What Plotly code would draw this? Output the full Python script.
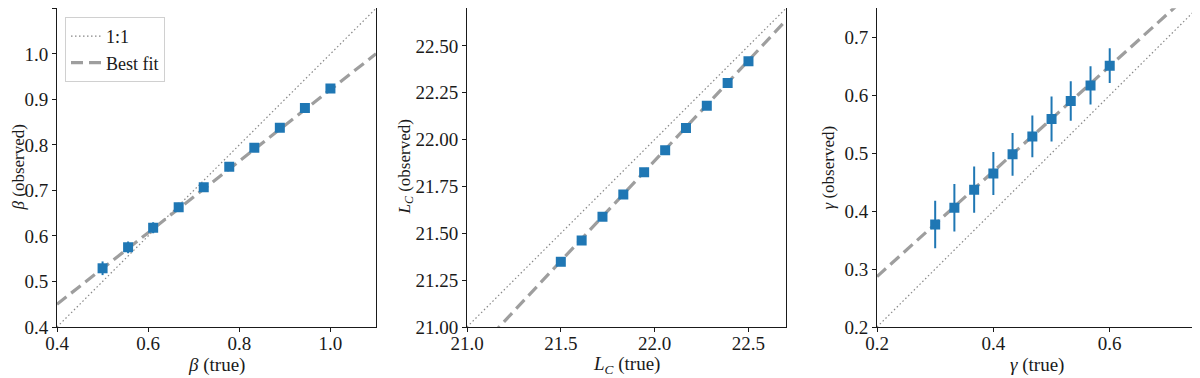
import numpy as np
import plotly.graph_objects as go
from plotly.subplots import make_subplots

# panel 1: beta
beta_true = [0.5, 0.556, 0.611, 0.667, 0.722, 0.778, 0.833, 0.889, 0.944, 1.0]
beta_obs = [0.529, 0.575, 0.618, 0.663, 0.707, 0.752, 0.794, 0.838, 0.881, 0.924]
beta_err = [0.015, 0.013, 0.012, 0.010, 0.009, 0.008, 0.008, 0.007, 0.007, 0.007]
beta_fit = (0.786, 0.45, 0.4)   # slope, value at x0, x0
beta_range = [0.4, 1.1]

# panel 2: L_C
lc_true = [21.5, 21.611, 21.722, 21.833, 21.944, 22.056, 22.167, 22.278, 22.389, 22.5]
lc_obs = [21.348, 21.462, 21.588, 21.707, 21.825, 21.943, 22.062, 22.180, 22.302, 22.418]
lc_err = [0.01] * 10
lc_fit = (1.07, 21.0, 21.171)
lc_xrange = [21.0, 22.7]
lc_yrange = [21.0, 22.7]

# panel 3: gamma
gam_true = [0.3, 0.333, 0.367, 0.4, 0.433, 0.467, 0.5, 0.533, 0.567, 0.6]
gam_obs = [0.377, 0.406, 0.437, 0.465, 0.498, 0.529, 0.559, 0.590, 0.617, 0.651]
gam_err = [0.041, 0.041, 0.040, 0.037, 0.037, 0.036, 0.039, 0.034, 0.033, 0.030]
gam_fit = (0.908, 0.287, 0.2)
gam_range = [0.2, 0.75]

xtitles = ["<i>β</i> (true)", "<i>L<sub>C</sub></i> (true)", "<i>γ</i> (true)"]
ytitles = ["<i>β</i> (observed)", "<i>L<sub>C</sub></i> (observed)", "<i>γ</i> (observed)"]

BLUE = "#1f77b4"
FONT = "Liberation Serif"
INK = "#1a1a1a"

# the page body has an 8px margin, so the figure starts at (8, 8)
OFF = 8
W, H = 1200 - OFF, 378 - OFF


def px(p):
    return (p - OFF) / W


def py(p):
    return 1 - (p - OFF) / H


fig = make_subplots(rows=1, cols=3, horizontal_spacing=0.05)

panels = [
    (beta_true, beta_obs, beta_err, beta_fit, beta_range, beta_range),
    (lc_true, lc_obs, lc_err, lc_fit, lc_xrange, lc_yrange),
    (gam_true, gam_obs, gam_err, gam_fit, gam_range, gam_range),
]

for i, (xt, yo, ye, fit, xr, yr) in enumerate(panels):
    col = i + 1
    xs = np.array(xr)
    fig.add_trace(go.Scatter(x=xs, y=xs, mode="lines", name="1:1",
                             line=dict(color="#888888", width=1.2, dash="1.5px,2.5px"),
                             showlegend=(i == 0)), row=1, col=col)
    slope, y0, x0 = fit
    fig.add_trace(go.Scatter(x=xs, y=y0 + slope * (xs - x0), mode="lines", name="Best fit",
                             line=dict(color="#9e9e9e", width=3.2, dash="12px,6px"),
                             showlegend=(i == 0)), row=1, col=col)
    fig.add_trace(go.Scatter(x=xt, y=yo, mode="markers", showlegend=False,
                             marker=dict(symbol="square", size=10, color=BLUE),
                             error_y=dict(type="data", array=ye, color=BLUE,
                                          thickness=2, width=0)), row=1, col=col)

# panel pixel boxes in page coords
doms = [(57, 376), (467, 786), (877, 1197)]
ytop, ybot = 8, 327
ydom = [py(ybot), 0.999]
ytitle_x = [18, 406, 828]

axis_common = dict(showgrid=False, zeroline=False, showline=True, mirror=True,
                   linecolor=INK, linewidth=1, ticks="outside", ticklen=4,
                   tickcolor=INK, tickfont=dict(family=FONT, size=19, color=INK),
                   automargin=False)

xcfg = [
    dict(range=beta_range, tickvals=[0.4, 0.6, 0.8, 1.0], tickformat=".1f"),
    dict(range=lc_xrange, tickvals=[21.0, 21.5, 22.0, 22.5], tickformat=".1f"),
    dict(range=gam_range, tickvals=[0.2, 0.4, 0.6], tickformat=".1f"),
]
ycfg = [
    dict(range=beta_range, tickvals=[0.4, 0.5, 0.6, 0.7, 0.8, 0.9, 1.0, 1.1],
         tickformat=".1f"),
    dict(range=lc_yrange, tickvals=[21.0, 21.25, 21.5, 21.75, 22.0, 22.25, 22.5],
         tickformat=".2f"),
    dict(range=gam_range, tickvals=[0.2, 0.3, 0.4, 0.5, 0.6, 0.7],
         tickformat=".1f"),
]

title_font = dict(family=FONT, size=19, color=INK)
for i in range(3):
    sfx = "" if i == 0 else str(i + 1)
    xc = dict(axis_common, **xcfg[i])
    xc["domain"] = [px(doms[i][0]), min(1.0, px(doms[i][1]))]
    xc["ticklabelstandoff"] = -5
    yc = dict(axis_common, **ycfg[i])
    yc["domain"] = ydom
    fig.layout["xaxis" + sfx].update(xc)
    fig.layout["yaxis" + sfx].update(yc)

    fig.add_annotation(text=xtitles[i], xref="paper", yref="paper",
                       x=px((doms[i][0] + doms[i][1]) / 2), y=py(365),
                       xanchor="center", yanchor="middle", showarrow=False,
                       font=title_font)
    fig.add_annotation(text=ytitles[i], xref="paper", yref="paper",
                       x=px(ytitle_x[i]), y=py((ytop + ybot) / 2), textangle=-90,
                       xanchor="center", yanchor="middle", showarrow=False,
                       font=dict(family=FONT, size=17, color=INK))

fig.update_layout(
    width=W, height=H,
    margin=dict(l=0, r=0, t=0, b=0),
    plot_bgcolor="white", paper_bgcolor="white",
    legend=dict(x=px(65), y=py(17), xanchor="left", yanchor="top",
                bgcolor="white", bordercolor="#d0d0d0", borderwidth=1,
                font=dict(family=FONT, size=18, color=INK),
                tracegroupgap=0),
)

fig.write_html("out.html")
